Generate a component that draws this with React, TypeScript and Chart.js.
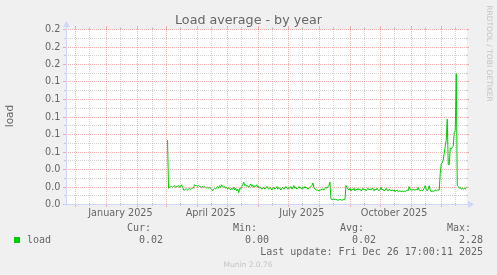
import { useEffect, useRef } from 'react';
import { Chart, registerables } from 'chart.js';

Chart.register(...registerables);

// ---------- data ----------
const chartTitle = 'Load average - by year';
const yAxisTitle = 'load';
const seriesName = 'load';

const yMin = 0;
const yMax = 0.2;
const yMajorTicks = [0, 0.02, 0.04, 0.06, 0.08, 0.1, 0.12, 0.14, 0.16, 0.18, 0.2];
const yTickLabels = ['0.0', '0.0', '0.0', '0.1', '0.1', '0.1', '0.1', '0.1', '0.2', '0.2', '0.2'];
const yMinorTicks = [0.01, 0.03, 0.05, 0.07, 0.09, 0.11, 0.13, 0.15, 0.17, 0.19];

// x unit: days since 1 January 2025
const xStart = -40.29; // 21 Nov 2024 17:00
const xEnd = 359.71; // 26 Dec 2025 17:00
const monthStartDays = [-31, 0, 31, 59, 90, 120, 151, 181, 212, 243, 273, 304, 334];
const midMonthDays = [-17, 14, 45, 73, 104, 134, 165, 195, 226, 257, 287, 318, 348];
const xLabelDays = [14, 104, 195, 287];
const xLabels = ['January 2025', 'April 2025', 'July 2025', 'October 2025'];

const loadStartDay = 61; // first day with data (3 Mar 2025)
const loadValues = [
  0.073, 0.018,
  0.019, 0.020, 0.020, 0.019, 0.020, 0.021, 0.019, 0.020, 0.020, 0.021, 0.019, 0.020, 0.022, 0.020,
  0.016, 0.016, 0.017, 0.017, 0.016, 0.017, 0.018, 0.017, 0.018, 0.018,
  0.019, 0.022, 0.021, 0.021, 0.020, 0.021, 0.020, 0.020, 0.019, 0.020,
  0.019, 0.020, 0.019, 0.018, 0.019, 0.018, 0.019, 0.018, 0.017, 0.015,
  0.017, 0.018, 0.017, 0.019, 0.020, 0.018, 0.021, 0.019, 0.022, 0.020,
  0.019, 0.020, 0.018, 0.019, 0.017, 0.019, 0.018, 0.016, 0.018, 0.017,
  0.019, 0.016, 0.018, 0.015, 0.017, 0.013, 0.018, 0.017, 0.020, 0.022,
  0.025, 0.021, 0.022, 0.020, 0.021, 0.019,
  0.021, 0.023, 0.020, 0.022, 0.019, 0.021, 0.020, 0.022, 0.019, 0.020, 0.018, 0.019, 0.017,
  0.018, 0.019, 0.017, 0.018, 0.020, 0.018, 0.017, 0.019, 0.018, 0.016,
  0.018, 0.019, 0.017, 0.018, 0.020, 0.017, 0.019, 0.018, 0.016, 0.018,
  0.019, 0.017, 0.018, 0.020, 0.018, 0.017, 0.019, 0.018,
  0.020, 0.017, 0.018, 0.021, 0.018, 0.019, 0.017, 0.018, 0.020, 0.018,
  0.019, 0.017, 0.019, 0.018, 0.020, 0.018, 0.019, 0.017, 0.018, 0.019,
  0.020, 0.021, 0.024, 0.019,
  0.017, 0.016, 0.016, 0.016, 0.015, 0.016, 0.016, 0.017, 0.017, 0.016,
  0.018, 0.019, 0.018, 0.020, 0.021, 0.025,
  0.006, 0.005, 0.005, 0.006, 0.005, 0.005, 0.005, 0.004, 0.005, 0.005, 0.005, 0.004, 0.005, 0.005, 0.005,
  0.021,
  0.019, 0.017, 0.016, 0.018, 0.015, 0.017, 0.016, 0.018, 0.015, 0.017,
  0.016, 0.018, 0.016, 0.017, 0.015, 0.016, 0.018, 0.016, 0.017, 0.015,
  0.017, 0.018, 0.016, 0.017,
  0.016, 0.018, 0.017, 0.015, 0.017, 0.016, 0.018, 0.016, 0.015, 0.017,
  0.019, 0.016, 0.017, 0.015, 0.016, 0.018, 0.016, 0.015, 0.017, 0.016,
  0.015, 0.016, 0.015, 0.016, 0.014, 0.015, 0.016, 0.014, 0.015, 0.015,
  0.014, 0.015, 0.014, 0.015, 0.014, 0.015, 0.016, 0.015, 0.020, 0.017,
  0.016, 0.016, 0.017, 0.016, 0.016, 0.017, 0.016, 0.019, 0.016, 0.015,
  0.016, 0.015, 0.016, 0.018, 0.021, 0.017, 0.015, 0.017, 0.021, 0.016,
  0.014, 0.015, 0.014, 0.015, 0.016, 0.015, 0.016, 0.016, 0.016,
  0.035, 0.046, 0.047, 0.050, 0.058, 0.066, 0.073, 0.097, 0.045, 0.045,
  0.064, 0.063, 0.065, 0.066, 0.082, 0.084, 0.149, 0.021,
  0.020, 0.018, 0.019, 0.017, 0.018, 0.017, 0.018, 0.017, 0.019,
];

const legendHeaders = ['Cur:', 'Min:', 'Avg:', 'Max:'];
const legendValues = ['0.02', '0.00', '0.02', '2.28'];
const lastUpdate = 'Last update: Fri Dec 26 17:00:11 2025';
const watermark = 'Munin 2.0.76';
const sideText = 'RRDTOOL / TOBI OETIKER';

// ---------- styles ----------
const BACK = '#F0F0F0';
const CANVAS = '#FFFFFF';
const FONT = '#666666';
const AXIS = '#CFD6F8';
const MGRID = 'rgba(222,79,79,0.42)';
const GRID = 'rgba(143,143,143,0.4)';
const LINE = '#00CC00';
const FAINT = 'rgba(102,102,102,0.33)';

const muninPlugin = {
  id: 'muninDecor',
  beforeDraw(chart: any) {
    const { ctx, chartArea, scales } = chart;
    const { left, right, top, bottom } = chartArea;
    ctx.save();
    ctx.fillStyle = BACK;
    ctx.fillRect(0, 0, chart.width, chart.height);
    ctx.fillStyle = CANVAS;
    ctx.fillRect(left, top, right - left, bottom - top + 1);

    const xs = scales.x;
    const ys = scales.y;
    ctx.lineWidth = 1;

    const hline = (v: number, major: boolean) => {
      const py = Math.round(ys.getPixelForValue(v)) + 0.5;
      ctx.strokeStyle = major ? MGRID : GRID;
      ctx.setLineDash([]);
      ctx.beginPath();
      if (major) {
        ctx.moveTo(left - 3, py); ctx.lineTo(left, py);
        ctx.moveTo(right, py); ctx.lineTo(right + 2, py);
      } else {
        ctx.moveTo(left - 2, py); ctx.lineTo(left + 1, py);
        ctx.moveTo(right - 1, py); ctx.lineTo(right + 1, py);
      }
      ctx.stroke();
      ctx.setLineDash([1, 1]);
      ctx.beginPath();
      ctx.moveTo(left, py); ctx.lineTo(right, py);
      ctx.stroke();
    };
    const vline = (d: number, major: boolean) => {
      const px = Math.round(xs.getPixelForValue(d)) + 0.5;
      if (px < left || px > right) return;
      ctx.strokeStyle = major ? MGRID : GRID;
      ctx.setLineDash([]);
      ctx.beginPath();
      if (major) {
        ctx.moveTo(px, bottom); ctx.lineTo(px, bottom + 3);
        ctx.moveTo(px, top); ctx.lineTo(px, top - 3);
      } else {
        ctx.moveTo(px, bottom - 1); ctx.lineTo(px, bottom + 2);
        ctx.moveTo(px, top + 1); ctx.lineTo(px, top - 2);
      }
      ctx.stroke();
      ctx.setLineDash([1, 1]);
      ctx.beginPath();
      ctx.moveTo(px, bottom); ctx.lineTo(px, top);
      ctx.stroke();
    };

    yMinorTicks.forEach((v) => hline(v, false));
    midMonthDays.forEach((d) => vline(d, false));
    yMajorTicks.forEach((v) => hline(v, true));
    monthStartDays.forEach((d) => vline(d, true));
    ctx.restore();
  },
  afterDatasetsDraw(chart: any) {
    const { ctx, chartArea } = chart;
    const { left, right, top, bottom } = chartArea;
    ctx.save();
    ctx.setLineDash([]);
    ctx.strokeStyle = AXIS;
    ctx.fillStyle = AXIS;
    ctx.lineWidth = 1;
    const ax = left + 0.5;
    const ay = Math.round(bottom) + 0.5;
    ctx.beginPath();
    ctx.moveTo(left - 2, ay); ctx.lineTo(right + 2, ay);
    ctx.moveTo(ax, bottom + 2); ctx.lineTo(ax, top - 3);
    ctx.stroke();
    // arrows
    ctx.beginPath();
    ctx.moveTo(right + 7, ay);
    ctx.lineTo(right + 1, ay - 3.5);
    ctx.lineTo(right + 1, ay + 3.5);
    ctx.closePath();
    ctx.fill();
    ctx.beginPath();
    ctx.moveTo(ax, top - 8);
    ctx.lineTo(ax - 3.5, top - 2);
    ctx.lineTo(ax + 3.5, top - 2);
    ctx.closePath();
    ctx.fill();
    ctx.restore();
  },
  afterDraw(chart: any) {
    const { ctx, scales } = chart;
    const xs = scales.x;
    const ys = scales.y;
    ctx.save();
    ctx.fillStyle = FONT;

    // title
    ctx.font = '12.7px "DejaVu Sans"';
    ctx.textAlign = 'center';
    ctx.textBaseline = 'alphabetic';
    ctx.fillText(chartTitle, 248.5, 24);

    // y tick labels
    ctx.font = '9.7px "DejaVu Sans"';
    ctx.textAlign = 'right';
    ctx.textBaseline = 'middle';
    yMajorTicks.forEach((v, i) => {
      const py = Math.round(ys.getPixelForValue(v)) + 0.5;
      ctx.fillText(yTickLabels[i], 60.5, py - 0.5);
    });

    // x tick labels
    ctx.textAlign = 'center';
    ctx.textBaseline = 'alphabetic';
    xLabelDays.forEach((d, i) => {
      ctx.fillText(xLabels[i], xs.getPixelForValue(d), 216);
    });

    // y axis title
    ctx.save();
    ctx.font = '10.5px "DejaVu Sans"';
    ctx.translate(10, 116);
    ctx.rotate(-Math.PI / 2);
    ctx.textAlign = 'center';
    ctx.textBaseline = 'middle';
    ctx.fillText(yAxisTitle, 0, 0);
    ctx.restore();

    // side watermark
    ctx.save();
    ctx.fillStyle = FAINT;
    ctx.font = '7.5px "DejaVu Sans"';
    ctx.translate(488.5, 53.5);
    ctx.rotate(Math.PI / 2);
    ctx.textAlign = 'center';
    ctx.textBaseline = 'middle';
    ctx.fillText(sideText, 0, 0);
    ctx.restore();

    // legend
    ctx.font = '10px "DejaVu Sans Mono"';
    ctx.textBaseline = 'alphabetic';
    ctx.fillStyle = LINE;
    ctx.fillRect(14, 237, 6, 6);
    ctx.fillStyle = FONT;
    ctx.textAlign = 'left';
    ctx.fillText(seriesName, 27, 243);
    const valueRight = [163, 269, 376, 483];
    ctx.textAlign = 'right';
    legendHeaders.forEach((h, i) => ctx.fillText(h, valueRight[i] - 12, 231));
    legendValues.forEach((v, i) => ctx.fillText(v, valueRight[i], 243));
    ctx.fillText(lastUpdate, 483, 255);

    // footer
    ctx.fillStyle = FAINT;
    ctx.font = '7.5px "DejaVu Sans"';
    ctx.textAlign = 'center';
    ctx.fillText(watermark, 248, 266.5);
    ctx.restore();
  },
};

export default function App() {
  const canvasRef = useRef<HTMLCanvasElement | null>(null);

  useEffect(() => {
    document.body.style.margin = '0';
    document.body.style.background = BACK;
    const canvas = canvasRef.current;
    if (!canvas) return;
    const points = loadValues.map((v, i) => ({ x: loadStartDay + i, y: v }));
    const chart = new Chart(canvas, {
      type: 'line',
      data: {
        datasets: [
          {
            label: seriesName,
            data: points,
            borderColor: LINE,
            borderWidth: 1,
            pointRadius: 0,
            tension: 0,
            fill: false,
          },
        ],
      },
      options: {
        responsive: false,
        devicePixelRatio: 1,
        animation: false,
        events: [],
        layout: { padding: { left: 66, right: 30, top: 29, bottom: 71 } },
        scales: {
          x: { type: 'linear', min: xStart, max: xEnd, display: false },
          y: { type: 'linear', min: yMin, max: yMax, display: false },
        },
        plugins: {
          legend: { display: false },
          tooltip: { enabled: false },
          title: { display: false },
        },
      },
      plugins: [muninPlugin],
    });
    return () => chart.destroy();
  }, []);

  return <canvas ref={canvasRef} width={497} height={275} style={{ display: 'block' }} />;
}
